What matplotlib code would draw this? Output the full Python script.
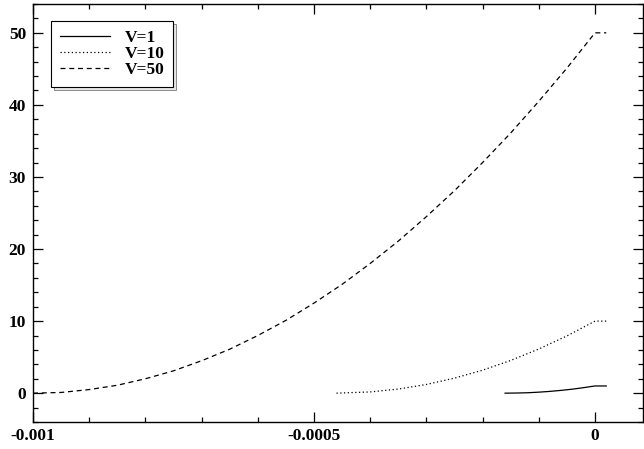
import matplotlib
matplotlib.use('Agg')
import matplotlib.pyplot as plt
from matplotlib.ticker import FixedLocator, MultipleLocator

# values
x_v50 = [-0.001, -0.00095, -0.0009, -0.00085, -0.0008, -0.00075, -0.0007, -0.00065,
         -0.0006, -0.00055, -0.0005, -0.00045, -0.0004, -0.00035, -0.0003, -0.00025,
         -0.0002, -0.00015, -0.0001, -0.00005, 0.0, 0.00002]
y_v50 = [0.0, 0.1, 0.5, 1.1, 2.0, 3.1, 4.5, 6.1, 8.0, 10.1, 12.5, 15.1, 18.0, 21.1,
         24.5, 28.1, 32.0, 36.1, 40.5, 45.1, 50.0, 50.0]

x_v10 = [-0.00046, -0.0004, -0.00035, -0.0003, -0.00025, -0.0002, -0.00015,
         -0.0001, -0.00005, 0.0, 0.00002]
y_v10 = [0.0, 0.17, 0.57, 1.21, 2.09, 3.19, 4.54, 6.13, 7.94, 10.0, 10.0]

x_v1 = [-0.00016, -0.00014, -0.00012, -0.0001, -0.00008, -0.00006, -0.00004,
        -0.00002, 0.0, 0.00002]
y_v1 = [0.0, 0.02, 0.06, 0.14, 0.25, 0.39, 0.56, 0.77, 1.0, 1.0]

labels = ['V=1', 'V=10', 'V=50']
x_ticks = [-0.001, -0.0005, 0.0]
x_tick_labels = ['-0.001', '-0.0005', '0']
y_ticks = [0, 10, 20, 30, 40, 50]

plt.rcParams['font.family'] = ['Liberation Serif', 'DejaVu Serif']
plt.rcParams['font.weight'] = 'bold'
plt.rcParams['font.size'] = 12.5

fig = plt.figure(figsize=(6.44, 4.49), dpi=100)
ax = fig.add_axes([33 / 644, 1 - 422 / 449, 610 / 644, 418 / 449])

ax.plot(x_v1, y_v1, color='black', linewidth=0.9, linestyle='-', label=labels[0])
ax.plot(x_v10, y_v10, color='black', linewidth=0.9, linestyle=(0, (1, 2)), label=labels[1])
ax.plot(x_v50, y_v50, color='black', linewidth=0.9, linestyle=(0, (4, 3)), label=labels[2])

ax.set_xlim(-0.001, 0.0000854)
ax.set_ylim(-4, 54)

ax.xaxis.set_major_locator(FixedLocator(x_ticks))
ax.set_xticklabels(x_tick_labels, fontweight='bold')
ax.xaxis.set_minor_locator(MultipleLocator(0.0001))
ax.yaxis.set_major_locator(FixedLocator(y_ticks))
ax.set_yticklabels([str(v) for v in y_ticks], fontweight='bold')
ax.yaxis.set_minor_locator(MultipleLocator(2))

ax.tick_params(which='both', direction='in', top=True, right=True, width=0.9)
ax.tick_params(which='major', length=7)
ax.tick_params(which='minor', length=3.5)
ax.tick_params(axis='x', which='major', pad=4)
ax.tick_params(axis='y', which='major', pad=5)
for s in ax.spines.values():
    s.set_linewidth(1.0)

leg = ax.legend(loc='upper left', bbox_to_anchor=(51 / 644, 1 - 21 / 449),
                bbox_transform=fig.transFigure,
                frameon=True, fancybox=False, handlelength=2.9, handletextpad=0.85,
                borderpad=0.5, labelspacing=0.0, borderaxespad=0,
                shadow={'facecolor': '#d0d0d0', 'edgecolor': 'black', 'linewidth': 0.6},
                prop={'weight': 'bold', 'size': 12.5})
leg.get_frame().set_edgecolor('black')
leg.get_frame().set_linewidth(0.8)

fig.savefig('out.png', dpi=100)
